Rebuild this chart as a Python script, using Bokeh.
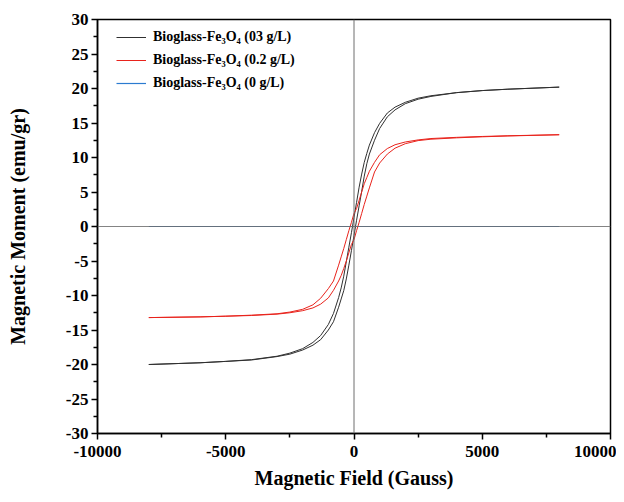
from bokeh.plotting import figure
from bokeh.models import FixedTicker, Span, Legend, LegendItem
from bokeh.embed import file_html
from bokeh.resources import INLINE

# ---- data ----
x_ticks = [-10000, -5000, 0, 5000, 10000]
x_tick_labels = ["-10000", "-5000", "0", "5000", "10000"]
x_minor = [-7500, -2500, 2500, 7500]
y_ticks = [-30, -25, -20, -15, -10, -5, 0, 5, 10, 15, 20, 25, 30]
y_tick_labels = ["-30", "-25", "-20", "-15", "-10", "-5", "0", "5", "10", "15", "20", "25", "30"]
y_minor = [-27.5, -22.5, -17.5, -12.5, -7.5, -2.5, 2.5, 7.5, 12.5, 17.5, 22.5, 27.5]

labels = ["Bioglass-Fe\u2083O\u2084 (03 g/L)",
          "Bioglass-Fe\u2083O\u2084 (0.2 g/L)",
          "Bioglass-Fe\u2083O\u2084 (0 g/L)"]

# black sample (03 g/L): descending branch (+8000 -> -8000)
black_desc_h = [8000, 6000, 5000, 4000, 3000, 2500, 2000, 1600, 1300, 1000, 800, 600, 500, 400, 300, 200, 100, 0,
                -100, -200, -300, -400, -500, -600, -800, -1000, -1300, -1600, -2000, -2500, -3000, -4000, -5000, -6000, -8000]
black_desc_m = [20.2, 19.9, 19.7, 19.4, 18.95, 18.6, 18.0, 17.3, 16.45, 14.95, 13.6, 11.8, 10.6, 9.3, 7.6, 5.7, 3.5, 1.3,
                -0.9, -3.0, -5.1, -7.2, -8.9, -10.3, -12.6, -14.2, -15.8, -16.8, -17.7, -18.35, -18.8, -19.3, -19.55, -19.75, -20.0]
# ascending branch (-8000 -> +8000)
black_asc_h = [-8000, -6000, -5000, -4000, -3000, -2500, -2000, -1600, -1300, -1000, -800, -600, -500, -400, -300, -200, -100, 0,
               100, 200, 300, 400, 500, 600, 800, 1000, 1300, 1600, 2000, 2500, 3000, 4000, 5000, 6000, 8000]
black_asc_m = [-20.0, -19.75, -19.55, -19.35, -18.85, -18.5, -17.9, -17.2, -16.4, -15.0, -13.8, -11.7, -10.5, -9.3, -7.6, -5.6, -3.5, -1.3,
               0.9, 3.0, 5.1, 7.3, 9.1, 10.5, 12.5, 14.2, 15.9, 16.9, 17.8, 18.45, 18.85, 19.4, 19.7, 19.9, 20.2]

# red sample (0.2 g/L)
red_desc_h = [8000, 6000, 5000, 4000, 3000, 2500, 2000, 1600, 1300, 1000, 800, 600, 500, 400, 300, 200, 100, 0,
              -100, -200, -300, -400, -500, -600, -800, -1000, -1300, -1600, -2000, -2500, -3000, -4000, -5000, -6000, -8000]
red_desc_m = [13.3, 13.15, 13.05, 12.92, 12.75, 12.55, 12.25, 11.85, 11.3, 10.4, 9.3, 8.0, 7.1, 6.2, 5.0, 3.8, 2.6, 1.9,
              0.6, -0.6, -1.9, -3.2, -4.4, -5.6, -7.9, -9.0, -10.4, -11.35, -12.0, -12.4, -12.65, -12.85, -13.0, -13.1, -13.2]
red_asc_h = [-8000, -6000, -5000, -4000, -3000, -2500, -2000, -1600, -1300, -1000, -800, -600, -500, -400, -300, -200, -100, 0,
             100, 200, 300, 400, 500, 600, 800, 1000, 1300, 1600, 2000, 2500, 3000, 4000, 5000, 6000, 8000]
red_asc_m = [-13.2, -13.1, -13.0, -12.9, -12.7, -12.5, -12.2, -11.8, -11.25, -10.35, -9.25, -7.9, -7.1, -6.1, -5.0, -3.8, -2.6, -1.9,
             -0.6, 0.6, 1.9, 3.2, 4.4, 5.6, 7.9, 9.2, 10.5, 11.35, 12.0, 12.45, 12.65, 12.85, 13.0, 13.12, 13.3]

# blue sample (0 g/L): flat at zero
blue_h = [-8000, -4000, 0, 4000, 8000]
blue_m = [0.0, 0.0, 0.0, 0.0, 0.0]

FONT = "Liberation Serif"
BLACK = "#303030"
RED = "#e8231c"
BLUE = "#2b7bd0"

p = figure(width=616, height=494, output_backend="svg", toolbar_location=None,
           x_range=(-10000, 10000), y_range=(-30, 30),
           min_border_left=97, min_border_right=6, min_border_top=19, min_border_bottom=61)
p.xgrid.visible = False
p.ygrid.visible = False
p.outline_line_color = "black"
p.outline_line_width = 1.5
p.background_fill_color = "white"
p.border_fill_color = "white"

r_blue = p.line(blue_h, blue_m, line_color=BLUE, line_width=1.2)
p.add_layout(Span(location=0, dimension="width", line_color="#6e6e6e", line_width=1, line_alpha=0.85))
p.add_layout(Span(location=0, dimension="height", line_color="#6e6e6e", line_width=1))

r_b1 = p.line(black_desc_h, black_desc_m, line_color=BLACK, line_width=1)
r_b2 = p.line(black_asc_h, black_asc_m, line_color=BLACK, line_width=1)
r_r1 = p.line(red_desc_h, red_desc_m, line_color=RED, line_width=1)
r_r2 = p.line(red_asc_h, red_asc_m, line_color=RED, line_width=1)

for ax in (p.xaxis[0], p.yaxis[0]):
    ax.axis_line_width = 1.5
    ax.axis_line_color = "black"
    ax.major_tick_line_width = 1.5
    ax.minor_tick_line_width = 1.5
    ax.major_tick_in = 0
    ax.major_tick_out = 6
    ax.minor_tick_in = 0
    ax.minor_tick_out = 4
    ax.major_label_text_font = FONT
    ax.major_label_text_font_style = "bold"
    ax.major_label_text_font_size = "17px"
    ax.major_label_text_color = "black"
    ax.axis_label_text_font = FONT
    ax.axis_label_text_font_style = "bold"
    ax.axis_label_text_font_size = "20px"
    ax.axis_label_text_color = "black"

p.xaxis[0].ticker = FixedTicker(ticks=x_ticks, minor_ticks=x_minor)
p.xaxis[0].major_label_overrides = dict(zip(x_ticks, x_tick_labels))
p.xaxis[0].major_label_standoff = 6
p.xaxis[0].axis_label = "Magnetic Field (Gauss)"
p.xaxis[0].axis_label_standoff = 7

p.yaxis[0].ticker = FixedTicker(ticks=y_ticks, minor_ticks=y_minor)
p.yaxis[0].major_label_overrides = dict(zip(y_ticks, y_tick_labels))
p.yaxis[0].major_label_standoff = 3
p.yaxis[0].axis_label = "Magnetic Moment (emu/gr)"
p.yaxis[0].axis_label_standoff = 34

legend = Legend(items=[LegendItem(label=labels[0], renderers=[r_b1]),
                       LegendItem(label=labels[1], renderers=[r_r1]),
                       LegendItem(label=labels[2], renderers=[r_blue])],
                location=(19, 340), margin=0, padding=8,
                glyph_width=30, glyph_height=20, label_height=20, spacing=3,
                label_standoff=7, border_line_color=None, background_fill_alpha=0,
                label_text_font=FONT, label_text_font_style="bold",
                label_text_font_size="14px", label_text_color="black")
p.add_layout(legend)

open("out.html", "w").write(file_html(p, INLINE))
